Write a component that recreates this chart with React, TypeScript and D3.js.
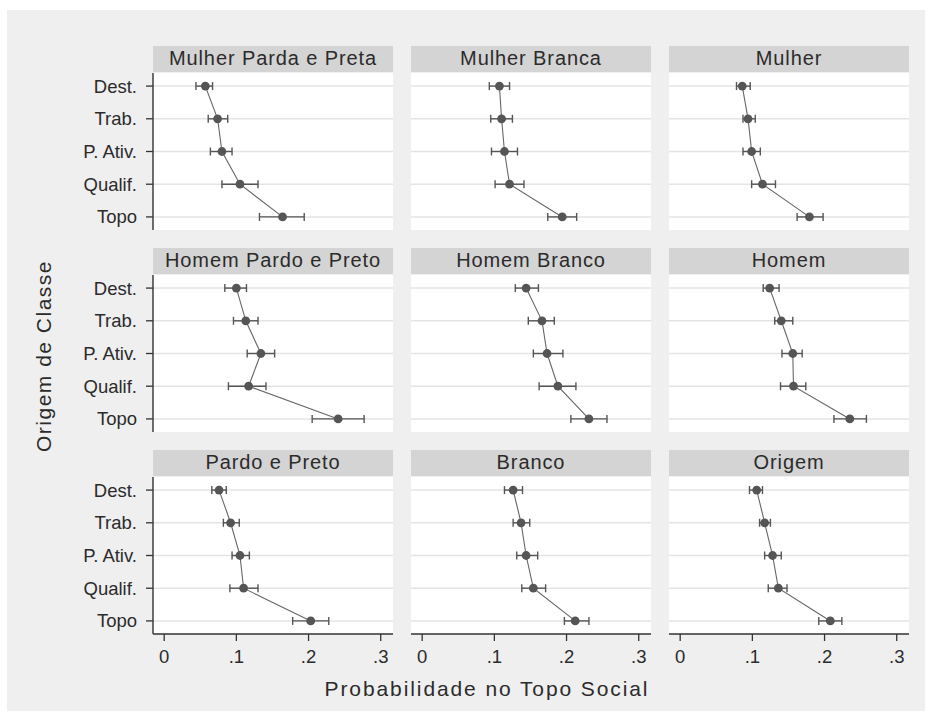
import React from "react";
import * as d3 from "d3";

const categories = ["Dest.", "Trab.", "P. Ativ.", "Qualif.", "Topo"];
const panelTitles = [
  "Mulher Parda e Preta", "Mulher Branca", "Mulher",
  "Homem Pardo e Preto", "Homem Branco", "Homem",
  "Pardo e Preto", "Branco", "Origem",
];
const xTicks = [0, 0.1, 0.2, 0.3];
const xTickLabels = ["0", ".1", ".2", ".3"];

// point estimates and 95% CI per panel (order of categories)
const estMulherPP = [0.057, 0.074, 0.080, 0.105, 0.164];
const loMulherPP = [0.044, 0.061, 0.064, 0.080, 0.132];
const hiMulherPP = [0.067, 0.088, 0.094, 0.130, 0.194];

const estMulherB = [0.107, 0.110, 0.114, 0.121, 0.194];
const loMulherB = [0.093, 0.095, 0.096, 0.101, 0.174];
const hiMulherB = [0.121, 0.125, 0.132, 0.141, 0.214];

const estMulher = [0.086, 0.094, 0.099, 0.114, 0.179];
const loMulher = [0.078, 0.087, 0.087, 0.099, 0.162];
const hiMulher = [0.097, 0.104, 0.111, 0.132, 0.198];

const estHomemPP = [0.100, 0.113, 0.134, 0.117, 0.241];
const loHomemPP = [0.084, 0.096, 0.115, 0.089, 0.205];
const hiHomemPP = [0.114, 0.130, 0.153, 0.141, 0.277];

const estHomemB = [0.144, 0.166, 0.173, 0.188, 0.231];
const loHomemB = [0.129, 0.147, 0.154, 0.162, 0.206];
const hiHomemB = [0.161, 0.183, 0.195, 0.213, 0.256];

const estHomem = [0.124, 0.140, 0.156, 0.157, 0.235];
const loHomem = [0.115, 0.131, 0.141, 0.139, 0.213];
const hiHomem = [0.137, 0.156, 0.169, 0.174, 0.258];

const estPardoP = [0.076, 0.092, 0.105, 0.110, 0.203];
const loPardoP = [0.066, 0.082, 0.094, 0.091, 0.178];
const hiPardoP = [0.086, 0.104, 0.118, 0.130, 0.228];

const estBranco = [0.126, 0.137, 0.144, 0.154, 0.212];
const loBranco = [0.114, 0.126, 0.131, 0.138, 0.197];
const hiBranco = [0.139, 0.149, 0.160, 0.171, 0.231];

const estOrigem = [0.106, 0.117, 0.128, 0.136, 0.208];
const loOrigem = [0.096, 0.110, 0.117, 0.122, 0.192];
const hiOrigem = [0.114, 0.125, 0.140, 0.148, 0.224];

const panelEst = [estMulherPP, estMulherB, estMulher, estHomemPP, estHomemB, estHomem, estPardoP, estBranco, estOrigem];
const panelLo = [loMulherPP, loMulherB, loMulher, loHomemPP, loHomemB, loHomem, loPardoP, loBranco, loOrigem];
const panelHi = [hiMulherPP, hiMulherB, hiMulher, hiHomemPP, hiHomemB, hiHomem, hiPardoP, hiBranco, hiOrigem];

const W = 932;
const H = 721;
const colX = [153, 411, 669];
const colW = 240;
const rowTop = [46, 248, 450];
const headerH = 26;
const plotH = 157;
const FONT = "'Liberation Sans', Arial, sans-serif";
const TXT = "#2b2b2b";
const MARK = "#555555";

export default function App() {
  return (
    <svg width={W} height={H} style={{ position: "absolute", left: 0, top: 0 }} fontFamily={FONT}>
      <rect x={0} y={0} width={W} height={H} fill="#ffffff" />
      <rect x={7} y={10} width={918} height={701} fill="#efefef" />
      {panelTitles.map((title, p) => {
        const r = Math.floor(p / 3);
        const c = p % 3;
        const x0 = colX[c];
        const hTop = rowTop[r];
        const pTop = hTop + headerH + 1;
        const x = d3.scaleLinear().domain([-0.0155, 0.317]).range([x0, x0 + colW]);
        const y = d3.scaleLinear().domain([0.6, 5.4]).range([pTop, pTop + plotH]);
        const est = panelEst[p];
        const lo = panelLo[p];
        const hi = panelHi[p];
        const line = d3.line<number>()
          .x((d) => x(d))
          .y((_, i) => y(i + 1));
        return (
          <g key={title}>
            <rect x={x0} y={hTop} width={colW} height={headerH} fill="#d4d4d4" />
            <text x={x0 + colW / 2} y={hTop + 19} textAnchor="middle" fontSize={20} letterSpacing={0.9} fill={TXT}>
              {title}
            </text>
            <rect x={x0} y={pTop} width={colW} height={plotH} fill="#ffffff" />
            {categories.map((cat, i) => (
              <line key={cat} x1={x0} x2={x0 + colW} y1={y(i + 1)} y2={y(i + 1)} stroke="#e4e4e4" strokeWidth={1.5} />
            ))}
            {c === 0 && (
              <g>
                <line x1={x0} x2={x0} y1={pTop} y2={pTop + plotH} stroke="#333" strokeWidth={1.4} />
                {categories.map((cat, i) => (
                  <g key={cat}>
                    <line x1={x0 - 7} x2={x0} y1={y(i + 1)} y2={y(i + 1)} stroke="#333" strokeWidth={1.3} />
                    <text x={x0 - 16} y={y(i + 1) + 6.5} textAnchor="end" fontSize={18.5} fill={TXT}>
                      {cat}
                    </text>
                  </g>
                ))}
              </g>
            )}
            {r === 2 && (
              <g>
                <line x1={x0} x2={x0 + colW} y1={pTop + plotH} y2={pTop + plotH} stroke="#333" strokeWidth={1.4} />
                {xTicks.map((t, k) => (
                  <g key={t}>
                    <line x1={x(t)} x2={x(t)} y1={pTop + plotH} y2={pTop + plotH + 7} stroke="#333" strokeWidth={1.3} />
                    <text x={x(t)} y={663} textAnchor="middle" fontSize={18.5} fill={TXT}>
                      {xTickLabels[k]}
                    </text>
                  </g>
                ))}
              </g>
            )}
            <path d={line(est) || ""} fill="none" stroke="#666" strokeWidth={1.1} />
            {est.map((v, i) => {
              const yy = y(i + 1);
              return (
                <g key={i}>
                  <line x1={x(lo[i])} x2={x(hi[i])} y1={yy} y2={yy} stroke={MARK} strokeWidth={1.4} />
                  <line x1={x(lo[i])} x2={x(lo[i])} y1={yy - 4} y2={yy + 4} stroke={MARK} strokeWidth={1.4} />
                  <line x1={x(hi[i])} x2={x(hi[i])} y1={yy - 4} y2={yy + 4} stroke={MARK} strokeWidth={1.4} />
                  <circle cx={x(v)} cy={yy} r={4.4} fill={MARK} />
                </g>
              );
            })}
          </g>
        );
      })}
      <text x={487} y={696} textAnchor="middle" fontSize={21} letterSpacing={1.9} fill={TXT}>
        Probabilidade no Topo Social
      </text>
      <text
        transform={`translate(51, 356) rotate(-90)`}
        textAnchor="middle"
        fontSize={21}
        letterSpacing={1.5}
        fill={TXT}
      >
        Origem de Classe
      </text>
    </svg>
  );
}
